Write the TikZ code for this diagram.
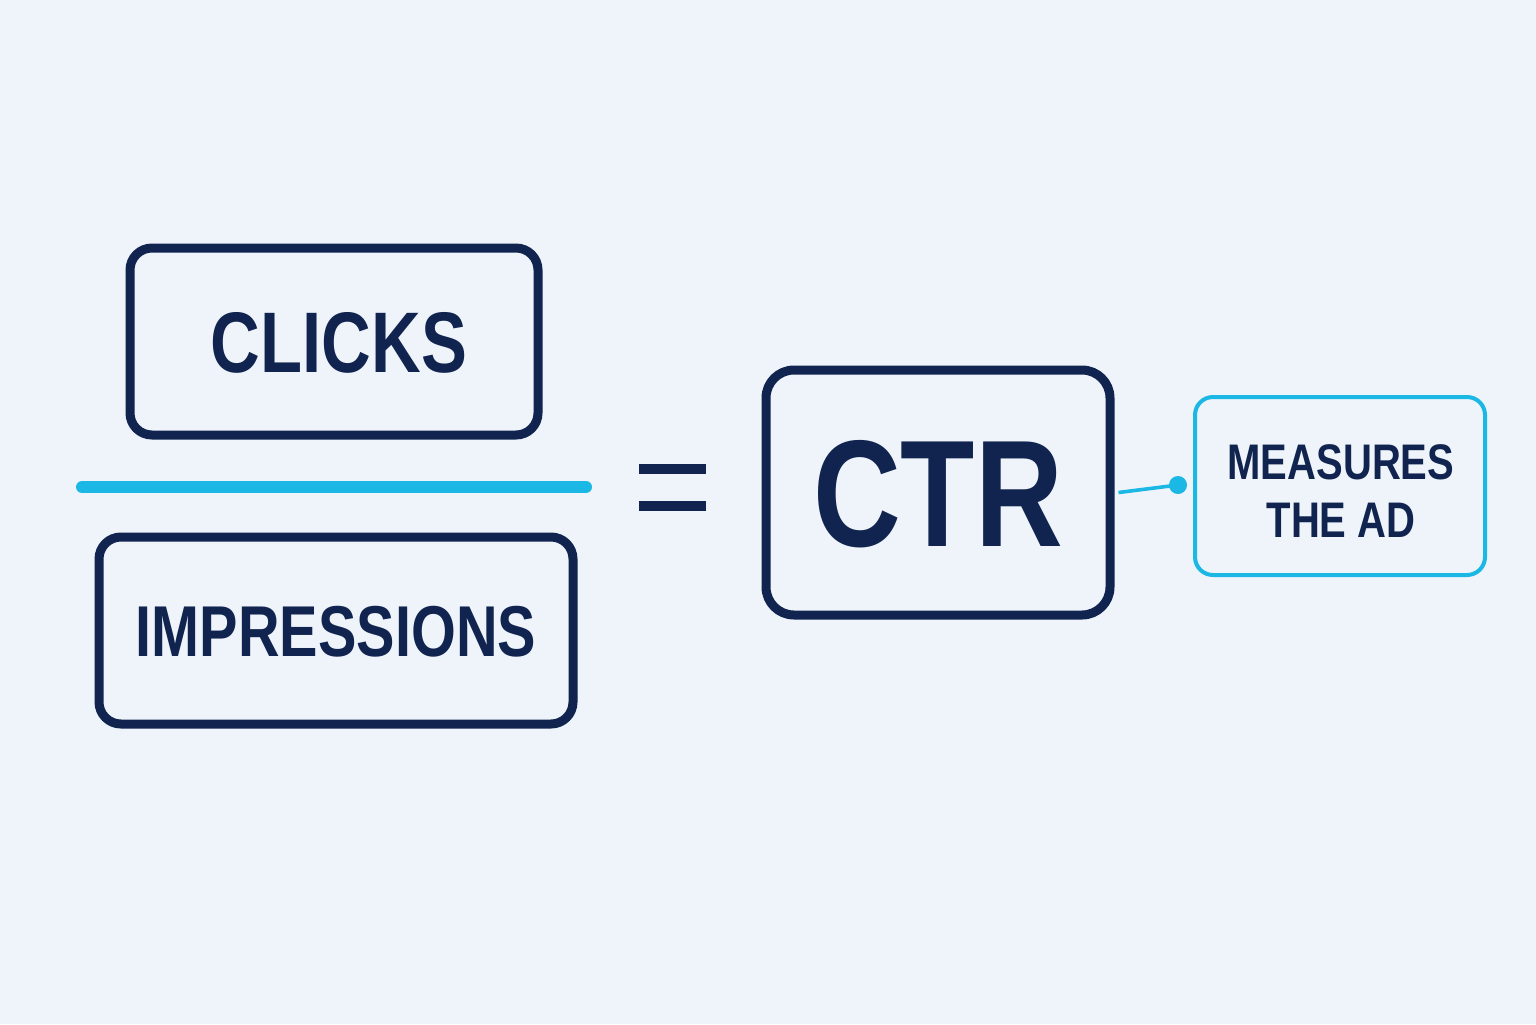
\documentclass[tikz,border=0pt]{standalone}
\usepackage{fontspec}
\newfontfamily\cond[FakeStretch=0.8]{Liberation Sans}
\definecolor{navy}{HTML}{10244F}
\definecolor{cyanx}{HTML}{1BB8E6}
\definecolor{bg}{HTML}{EEF4FA}
\begin{document}
\begin{tikzpicture}[x=0.5pt,y=-0.5pt,
  box/.style={draw=navy,line width=4.5pt,rounded corners=11pt,inner sep=0pt},
  cbox/.style={draw=cyanx,line width=2pt,rounded corners=9pt,inner sep=0pt},
  txt/.style={text=navy,font=\cond\bfseries}]
\fill[bg] (0,0) rectangle (1536,1024);
\useasboundingbox (0,0) rectangle (1536,1024);
\node[box,minimum width=204pt,minimum height=93.5pt] (clicks) at (334,341.5) {};
\node[txt,font=\cond\bfseries\fontsize{43}{43}\selectfont] (clickst) at (339,343) {CLICKS};
\node[box,minimum width=237pt,minimum height=93.5pt] (impr) at (336,630.5) {};
\node[txt,font=\cond\bfseries\fontsize{36}{36}\selectfont] (imprt) at (336,632) {IMPRESSIONS};
\coordinate (b1) at (82,487); \coordinate (b2) at (586,487);
\draw[cyanx,line width=6pt,line cap=round] (b1) -- (b2);
\coordinate (e1) at (639,469); \coordinate (e2) at (706,469);
\coordinate (e3) at (639,506); \coordinate (e4) at (706,506);
\draw[navy,line width=5pt] (e1) -- (e2) (e3) -- (e4);
\node[box,minimum width=172pt,minimum height=122.5pt,rounded corners=14pt] (ctr) at (938,492.5) {};
\node[txt,font=\cond\bfseries\fontsize{76}{76}\selectfont] (ctrt) at (938,494) {CTR};
\node[cbox,minimum width=145pt,minimum height=89pt] (meas) at (1340,486) {};
\node[txt,align=center,font=\cond\bfseries\fontsize{25}{29}\selectfont] (meast) at (1341,491) {MEASURES\\THE AD};
\coordinate (dot) at (1178,485);
\draw[cyanx,line width=1.8pt] (ctr.east) ++(2pt,0) -- (dot);
\fill[cyanx] (dot) circle (4.5pt);
\end{tikzpicture}
\end{document}
